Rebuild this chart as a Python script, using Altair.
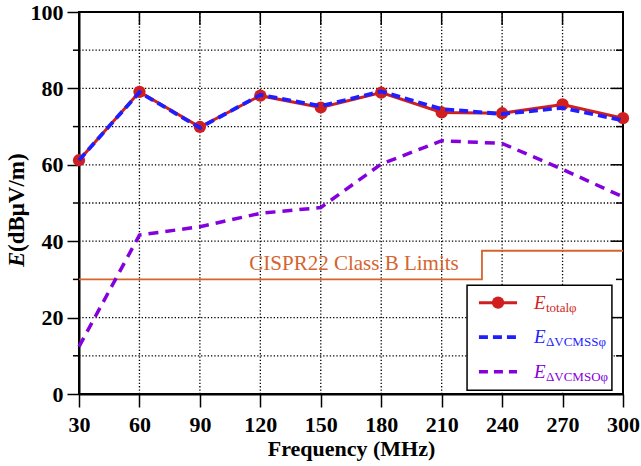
import altair as alt
import pandas as pd

freq = [30, 60, 90, 120, 150, 180, 210, 240, 270, 300]
e_total = [61.2, 79.1, 69.9, 78.1, 75.0, 78.9, 73.7, 73.5, 75.8, 72.2]
e_vcmss = [61.2, 79.0, 69.7, 78.3, 75.4, 79.2, 74.6, 73.3, 74.9, 71.6]
e_vcmso = [12.4, 41.6, 43.8, 47.3, 48.8, 60.2, 66.3, 65.6, 58.8, 51.6]

limit_freq = [30, 230, 230, 300]
limit_level = [30, 30, 37.5, 37.5]
limit_label = "CISPR22 Class B Limits"

x_ticks = [30, 60, 90, 120, 150, 180, 210, 240, 270, 300]
y_ticks = [0, 20, 40, 60, 80, 100]
y_minor = [10, 30, 50, 70, 90]

RED = "#CF1F1F"
BLUE = "#1E1EFF"
PURPLE = "#8400DC"
ORANGE = "#D6642E"
FONT = "Liberation Serif"

df = pd.DataFrame({"freq": freq, "total": e_total, "vcmss": e_vcmss, "vcmso": e_vcmso})
lim = pd.DataFrame({"freq": limit_freq, "level": limit_level, "i": list(range(len(limit_freq)))})

xs = alt.Scale(domain=[30, 300], nice=False, zero=False)
ys = alt.Scale(domain=[0, 100], nice=False)

common = dict(
    grid=False, labelFont=FONT, labelFontSize=22, labelFontWeight="bold", labelColor="#000",
    tickWidth=1.5, tickColor="#000", domainColor="#000", domainWidth=2,
    labelFlush=False, labelOverlap=False,
)
xaxis = alt.Axis(values=x_ticks, title="Frequency (MHz)", labelPadding=7, tickSize=13,
                 titleFont=FONT, titleFontSize=22, titleFontWeight="bold", titleColor="#000",
                 titlePadding=3, **common)
yaxis = alt.Axis(values=y_ticks, title=None, labelPadding=4, tickSize=12, **common)


def X(f):
    return alt.X(f, scale=xs, axis=xaxis)


def Y(f):
    return alt.Y(f, scale=ys, axis=yaxis)


base = alt.Chart(df)

# dotted grid lines drawn from the tick arrays
gx = pd.DataFrame({"x": x_ticks[1:-1], "y": [0] * 8, "y2": [100] * 8})
grid_x = alt.Chart(gx).mark_rule(color="#000", strokeWidth=1.3, strokeDash=[1.3, 2]).encode(
    x=X("x:Q"), y=Y("y:Q"), y2="y2:Q")
gy_vals = [10, 20, 40, 50, 60, 70, 80, 90]
gy = pd.DataFrame({"y": gy_vals, "x": [30] * len(gy_vals), "x2": [300] * len(gy_vals)})
grid_y = alt.Chart(gy).mark_rule(color="#000", strokeWidth=1.3, strokeDash=[1.3, 2]).encode(
    y=Y("y:Q"), x=X("x:Q"), x2="x2:Q")

limit_line = alt.Chart(lim).mark_line(color=ORANGE, strokeWidth=1.8, interpolate="linear").encode(
    x=X("freq:Q"), y=Y("level:Q"), order="i:Q",
)
limit_text = alt.Chart(pd.DataFrame({"x": [166.5], "y": [32.4], "t": [limit_label]})).mark_text(
    font=FONT, fontSize=21, color=ORANGE, align="center", baseline="alphabetic"
).encode(x=X("x:Q"), y=Y("y:Q"), text="t:N")

red_line = base.mark_line(color=RED, strokeWidth=3).encode(x=X("freq:Q"), y=Y("total:Q"))
red_pts = base.mark_circle(color=RED, size=150, opacity=1).encode(x=X("freq:Q"), y=Y("total:Q"))
blue_line = base.mark_line(color=BLUE, strokeWidth=3.8, strokeDash=[9, 5]).encode(
    x=X("freq:Q"), y=Y("vcmss:Q"))
purple_line = base.mark_line(color=PURPLE, strokeWidth=3.5, strokeDash=[10, 7]).encode(
    x=X("freq:Q"), y=Y("vcmso:Q"))

# inward ticks on top and right frame, short outward minor ticks on left
top_ticks = pd.DataFrame({"x": x_ticks[1:-1], "y": [100] * 8, "y2": [96.6] * 8})
top_rules = alt.Chart(top_ticks).mark_rule(color="#000", strokeWidth=1.5).encode(
    x=X("x:Q"), y=Y("y:Q"), y2="y2:Q")
right_vals = [10, 20, 30, 40, 50, 60, 70, 80, 90]
right_ticks = pd.DataFrame({"y": right_vals, "x": [300] * 9,
                            "x2": [294.0 if v % 20 == 0 else 296.5 for v in right_vals]})
right_rules = alt.Chart(right_ticks).mark_rule(color="#000", strokeWidth=1.5).encode(
    y=Y("y:Q"), x=X("x:Q"), x2="x2:Q")
left_minor = pd.DataFrame({"y": y_minor, "x": [30] * 5, "x2": [27.0] * 5})
left_rules = alt.Chart(left_minor).mark_rule(color="#000", strokeWidth=1.5).encode(
    y=Y("y:Q"), x=X("x:Q"), x2="x2:Q")

# legend drawn in data coordinates
leg_box = alt.Chart(pd.DataFrame({"x": [222.6], "x2": [294.5], "y": [1.0], "y2": [28.5]})).mark_rect(
    fill="white", stroke="#000", strokeWidth=1.5).encode(
    x=X("x:Q"), x2="x2:Q", y=Y("y:Q"), y2="y2:Q")
leg_rows = [23.9, 14.9, 5.8]
leg_x1, leg_x2, leg_xm, leg_tx = 228.5, 247.4, 238.0, 255.8
l1 = alt.Chart(pd.DataFrame({"x": [leg_x1], "x2": [leg_x2], "y": [leg_rows[0]]})).mark_rule(
    color=RED, strokeWidth=3).encode(x=X("x:Q"), x2="x2:Q", y=Y("y:Q"))
p1 = alt.Chart(pd.DataFrame({"x": [leg_xm], "y": [leg_rows[0]]})).mark_circle(
    color=RED, size=150, opacity=1).encode(x=X("x:Q"), y=Y("y:Q"))
l2 = alt.Chart(pd.DataFrame({"x": [leg_x1], "x2": [leg_x2], "y": [leg_rows[1]]})).mark_rule(
    color=BLUE, strokeWidth=3.8, strokeDash=[9, 5]).encode(x=X("x:Q"), x2="x2:Q", y=Y("y:Q"))
l3 = alt.Chart(pd.DataFrame({"x": [leg_x1], "x2": [leg_x2], "y": [leg_rows[2]]})).mark_rule(
    color=PURPLE, strokeWidth=3.5, strokeDash=[9, 6]).encode(x=X("x:Q"), x2="x2:Q", y=Y("y:Q"))

leg_subs = ["totalφ", "ΔVCMSSφ", "ΔVCMSOφ"]
leg_cols = [RED, BLUE, PURPLE]
leg_texts = []
for row, sub, col in zip(leg_rows, leg_subs, leg_cols):
    d = pd.DataFrame({"x": [leg_tx], "y": [row], "e": ["E"], "s": [sub]})
    leg_texts.append(alt.Chart(d).mark_text(font=FONT, fontSize=19, fontStyle="italic", color=col,
                                            align="left", baseline="alphabetic", dy=6).encode(
        x=X("x:Q"), y=Y("y:Q"), text="e:N"))
    leg_texts.append(alt.Chart(d).mark_text(font=FONT, fontSize=13, color=col,
                                            align="left", baseline="alphabetic", dx=12, dy=9).encode(
        x=X("x:Q"), y=Y("y:Q"), text="s:N"))

# y-axis title with italic E
yt = pd.DataFrame({"a": ["E"], "b": ["(dBμV/m)"]})
ytitle_e = alt.Chart(yt).mark_text(font=FONT, fontSize=23, fontWeight="bold", fontStyle="italic",
                                   angle=270, align="left", baseline="middle", color="#000").encode(
    x=alt.value(-62), y=alt.value(255), text="a:N")
ytitle_b = alt.Chart(yt).mark_text(font=FONT, fontSize=23, fontWeight="bold",
                                   angle=270, align="left", baseline="middle", color="#000").encode(
    x=alt.value(-62), y=alt.value(240), text="b:N")

chart = alt.layer(
    grid_x, grid_y, limit_line, limit_text, purple_line, red_line, red_pts, blue_line,
    top_rules, right_rules, left_rules, leg_box, l1, p1, l2, l3, *leg_texts, ytitle_e, ytitle_b,
).properties(
    width=544, height=382, background="white",
    autosize=alt.AutoSizeParams(type="none"),
    padding={"left": 79, "top": 12, "right": 18, "bottom": 72},
).configure_view(stroke="#000", strokeWidth=2)

chart.save("out.html", embed_options={"renderer": "svg", "actions": False})
